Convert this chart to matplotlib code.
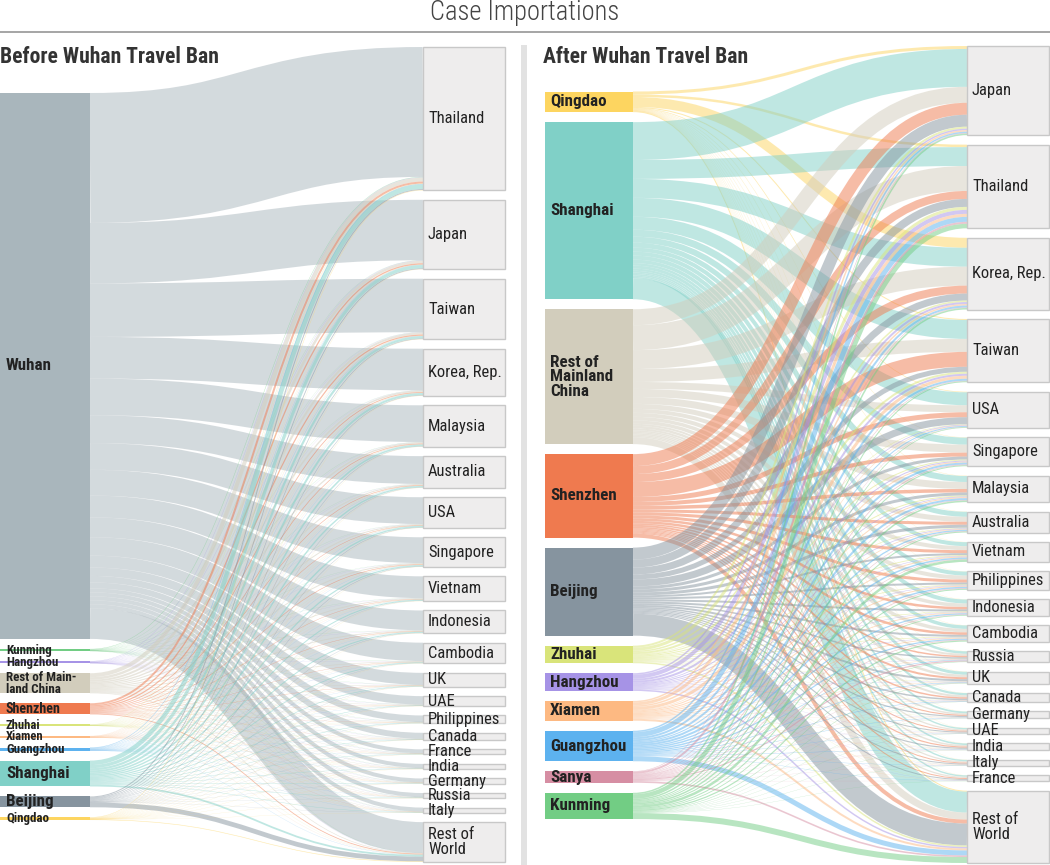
import matplotlib
matplotlib.use('Agg')
import matplotlib.pyplot as plt
from matplotlib.path import Path
from matplotlib.patches import PathPatch, Rectangle
from matplotlib import font_manager as fm

# ---------------- data ----------------
left_sources = ['Wuhan', 'Kunming', 'Hangzhou', 'Rest of Main-\nland China', 'Shenzhen',
                'Zhuhai', 'Xiamen', 'Guangzhou', 'Shanghai', 'Beijing', 'Qingdao']
left_targets = ['Thailand', 'Japan', 'Taiwan', 'Korea, Rep.', 'Malaysia', 'Australia', 'USA',
                'Singapore', 'Vietnam', 'Indonesia', 'Cambodia', 'UK', 'UAE', 'Philippines',
                'Canada', 'France', 'India', 'Germany', 'Russia', 'Italy', 'Rest of\nWorld']
left_flows = [
    [131, 61, 54, 42, 37, 28, 27, 26, 22, 20, 18.5, 12, 8.5, 6.5, 6, 4, 4, 4, 4, 4, 31],
    [0.4, 0.2, 0.1, 0.1, 0.2, 0.1, 0.1, 0.1, 0.1, 0.1, 0.2, 0.05, 0.05, 0.05, 0.05, 0.05, 0.05, 0.05, 0.02, 0.05, 0.1],
    [0.3, 0.3, 0.2, 0.1, 0.1, 0.1, 0.1, 0.1, 0.1, 0.1, 0.05, 0.1, 0.05, 0.05, 0.05, 0.05, 0.05, 0.05, 0.05, 0.05, 0.1],
    [4, 2.5, 2, 1.5, 1.3, 1, 1, 1, 0.8, 0.8, 0.6, 0.5, 0.4, 0.4, 0.3, 0.3, 0.3, 0.3, 0.3, 0.3, 0.6],
    [2, 1.3, 1.2, 0.8, 0.7, 0.6, 0.5, 0.6, 0.4, 0.4, 0.3, 0.3, 0.2, 0.2, 0.15, 0.15, 0.15, 0.15, 0.15, 0.15, 0.8],
    [0.3, 0.1, 0.1, 0.1, 0.1, 0.1, 0.05, 0.1, 0.1, 0.05, 0.05, 0.05, 0.05, 0.05, 0.03, 0.03, 0.03, 0.03, 0.03, 0.03, 0.1],
    [0.2, 0.2, 0.2, 0.1, 0.1, 0.05, 0.05, 0.1, 0.05, 0.05, 0.05, 0.05, 0.05, 0.05, 0.03, 0.03, 0.03, 0.03, 0.03, 0.03, 0.1],
    [0.5, 0.3, 0.3, 0.2, 0.2, 0.2, 0.2, 0.2, 0.1, 0.1, 0.1, 0.1, 0.05, 0.05, 0.05, 0.05, 0.05, 0.05, 0.05, 0.05, 0.2],
    [4.5, 3.2, 2.2, 2, 1.6, 1.4, 1.4, 1.2, 1, 1, 0.8, 0.6, 0.5, 0.5, 0.4, 0.4, 0.4, 0.4, 0.4, 0.4, 1.8],
    [1, 0.8, 0.6, 0.5, 0.4, 0.3, 0.4, 0.4, 0.2, 0.3, 0.2, 0.2, 0.1, 0.1, 0.1, 0.1, 0.1, 0.1, 0.1, 0.1, 4.8],
    [0.4, 0.2, 0.2, 0.2, 0.1, 0.1, 0.1, 0.1, 0.1, 0.1, 0.1, 0.05, 0.05, 0.05, 0.05, 0.05, 0.05, 0.05, 0.05, 0.05, 0.6],
]

right_sources = ['Qingdao', 'Shanghai', 'Rest of\nMainland\nChina', 'Shenzhen', 'Beijing',
                 'Zhuhai', 'Hangzhou', 'Xiamen', 'Guangzhou', 'Sanya', 'Kunming']
right_targets = ['Japan', 'Thailand', 'Korea, Rep.', 'Taiwan', 'USA', 'Singapore', 'Malaysia',
                 'Australia', 'Vietnam', 'Philippines', 'Indonesia', 'Cambodia', 'Russia', 'UK',
                 'Canada', 'Germany', 'UAE', 'India', 'Italy', 'France', 'Rest of\nWorld']
right_flows = [
    [3, 2.5, 10, 1, 0.6, 0.3, 0.3, 0.2, 0.2, 0.2, 0.2, 0.2, 0.2, 0.2, 0.1, 0.1, 0.1, 0.1, 0.1, 0.1, 1],
    [38, 19, 19, 19, 13, 7, 6, 5, 4, 4, 4, 3.5, 2.5, 3, 2.2, 1.8, 1.4, 1.6, 1.4, 1.4, 21],
    [16, 25, 19, 13, 7, 8, 7, 5, 4, 4, 3.5, 3.5, 2, 2.5, 2, 1.5, 1.3, 1.5, 1.3, 1.3, 7],
    [12, 8, 8, 15, 5, 4, 3.5, 3, 3, 3, 2.5, 2.5, 1.5, 2, 1.5, 1.1, 1, 1.2, 1, 1, 4],
    [12, 8, 7, 5, 7, 3, 3, 3, 2, 2, 2, 2, 1.5, 2, 1.5, 1.2, 1, 1.2, 1, 1, 22],
    [2, 3, 1.5, 2, 0.5, 1, 1, 0.6, 0.8, 0.7, 0.6, 0.6, 0.3, 0.3, 0.2, 0.2, 0.2, 0.2, 0.2, 0.2, 1.5],
    [1.5, 4, 2, 2, 0.7, 1, 0.7, 0.7, 0.5, 0.5, 0.4, 0.4, 0.3, 0.3, 0.3, 0.2, 0.2, 0.2, 0.2, 0.2, 1.5],
    [1.5, 3, 1.5, 3, 0.5, 1, 1, 0.7, 1, 1, 0.8, 0.8, 0.4, 0.4, 0.3, 0.2, 0.2, 0.2, 0.2, 0.2, 2],
    [1.5, 5, 2, 2, 1, 2, 2, 1.3, 1.5, 1.5, 1.2, 1.2, 0.6, 0.6, 0.5, 0.4, 0.3, 0.4, 0.3, 0.3, 5],
    [0.5, 2, 0.5, 0.5, 0.3, 0.7, 0.5, 0.5, 0.5, 0.6, 0.5, 0.6, 1.2, 0.3, 0.2, 0.1, 0.1, 0.2, 0.1, 0.1, 1.6],
    [1.5, 4.5, 1.5, 1, 0.7, 1, 1.5, 1, 2.5, 1, 0.8, 1.2, 0.5, 0.4, 0.2, 0.2, 0.2, 0.2, 0.2, 0.2, 6],
]

# ---------------- style ----------------
city_colors = {
    'Wuhan': '#a9b6bc', 'Kunming': '#72cd84', 'Hangzhou': '#a693e6',
    'Rest': '#d2cdbc', 'Shenzhen': '#ef7a4f', 'Zhuhai': '#d9e47a',
    'Xiamen': '#fdb982', 'Guangzhou': '#5db2ef', 'Shanghai': '#80d0c7',
    'Beijing': '#86949f', 'Qingdao': '#fdd560', 'Sanya': '#d68ea3',
}


def city_color(name):
    key = name.split()[0].split('\n')[0]
    return city_colors.get(key, '#aaaaaa')


def pick_font(names):
    for n in names:
        try:
            fm.findfont(fm.FontProperties(family=n), fallback_to_default=False)
            return n
        except Exception:
            continue
    return 'DejaVu Sans'


FONT = pick_font(['Roboto Condensed', 'Roboto', 'DejaVu Sans'])
PT = 0.72  # points per pixel at dpi 100

fig = plt.figure(figsize=(10.5, 8.65), dpi=100)
ax = fig.add_axes([0, 0, 1, 1])
ax.set_xlim(0, 1050)
ax.set_ylim(865, 0)
ax.axis('off')


def draw_panel(sources, targets, flows, sx0, sx1, tx0, tx1, s_top, s_bot,
               t_top, t_bot, src_sizes, tgt_small, label_x):
    ns, nt = len(sources), len(targets)
    s_sum = [sum(r) for r in flows]
    t_sum = [sum(flows[i][j] for i in range(ns)) for j in range(nt)]
    total = sum(s_sum)
    s_gap = 10.0
    ky = (s_bot - s_top - s_gap * (ns - 1)) / total
    t_gap = (t_bot - t_top - ky * total) / (nt - 1)
    sy = []
    y = s_top
    for v in s_sum:
        sy.append(y)
        y += v * ky + s_gap
    ty = []
    y = t_top
    for v in t_sum:
        ty.append(y)
        y += v * ky + t_gap
    # links
    t_off = list(ty)
    xm = (sx1 + tx0) / 2
    for i in range(ns):
        s_off = sy[i]
        col = city_color(sources[i])
        for j in range(nt):
            v = flows[i][j]
            w = v * ky
            ys = s_off + w / 2
            s_off += w
            yt = t_off[j] + w / 2
            t_off[j] += w
            path = Path([(sx1, ys), (xm, ys), (xm, yt), (tx0, yt)],
                        [Path.MOVETO, Path.CURVE4, Path.CURVE4, Path.CURVE4])
            ax.add_patch(PathPatch(path, fill=False, edgecolor=col, alpha=0.5,
                                   lw=max(w, 0.15) * PT, capstyle='butt', zorder=2))
    # source nodes
    for i in range(ns):
        h = s_sum[i] * ky
        ax.add_patch(Rectangle((sx0, sy[i]), sx1 - sx0, h, facecolor=city_color(sources[i]),
                               edgecolor='none', zorder=3))
        ax.text(label_x, sy[i] + h / 2, sources[i], fontsize=src_sizes[i] * PT,
                fontweight='bold', family=FONT, color='#222222', va='center', ha='left',
                linespacing=0.95, zorder=5)
    # target nodes
    for j in range(nt):
        h = t_sum[j] * ky
        ax.add_patch(Rectangle((tx0, ty[j]), tx1 - tx0, h, facecolor='#eeeded',
                               edgecolor='#c8c8c8', lw=1.0, zorder=3))
        fs = 13.5 if (tgt_small and h < 4.5) else 16.5
        ax.text(tx0 + 5, ty[j] + h / 2, targets[j], fontsize=fs * PT, family=FONT,
                color='#222222', va='center', ha='left', linespacing=0.95, zorder=5)


left_src_sizes = [17, 13, 13, 13, 14, 12.5, 12.5, 13, 17, 17, 13]
right_src_sizes = [17] * 11

draw_panel(left_sources, left_targets, left_flows, 0, 90, 423, 505, 93, 820, 47, 862,
           left_src_sizes, True, 6)
draw_panel(right_sources, right_targets, right_flows, 545, 633, 967, 1049, 91.5, 819, 46, 863,
           right_src_sizes, False, 550)

# header and separators
ax.text(525, 13, 'Case Importations', fontsize=26.5 * PT, family=FONT, fontweight='light',
        color='#444444', ha='center', va='center')
ax.plot([0, 1050], [32, 32], color='#8a8a8a', lw=1.5 * PT, solid_capstyle='butt')
ax.plot([523.5, 523.5], [45, 865], color='#e2e2e2', lw=6 * PT, solid_capstyle='butt')
ax.text(0, 57, 'Before Wuhan Travel Ban', fontsize=21.6 * PT, family=FONT, fontweight='bold',
        color='#333333', ha='left', va='center')
ax.text(543, 57, 'After Wuhan Travel Ban', fontsize=21.6 * PT, family=FONT, fontweight='bold',
        color='#333333', ha='left', va='center')

fig.savefig('out.png', dpi=100)
